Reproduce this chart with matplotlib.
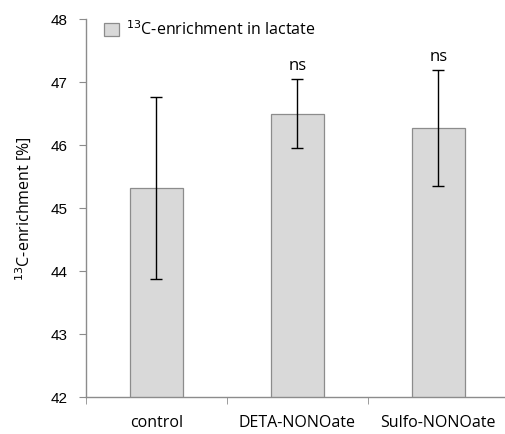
import matplotlib
matplotlib.use("Agg")
import matplotlib.pyplot as plt
import matplotlib.patches as mpatches
import numpy as np

categories = ["control", "DETA-NONOate", "Sulfo-NONOate"]
enrichment = [45.32, 46.50, 46.27]
errors = [1.45, 0.55, 0.92]
annotations = ["", "ns", "ns"]
yticks = [42, 43, 44, 45, 46, 47, 48]

plt.rcParams["font.family"] = ["Open Sans", "DejaVu Sans"]

fig = plt.figure(figsize=(5.05, 4.34), dpi=100)
ax = fig.add_axes([0.170, 0.085, 0.8376, 0.871])

x = np.arange(len(categories))
ax.bar(x, enrichment, width=0.38, bottom=0, color="#d9d9d9",
       edgecolor="#8c8c8c", linewidth=0.9, zorder=2)
ax.errorbar(x, enrichment, yerr=errors, fmt="none", ecolor="black",
            elinewidth=1.0, capsize=4, capthick=1.0, zorder=3)
for xi, val, err, txt in zip(x, enrichment, errors, annotations):
    if txt:
        ax.text(xi, val + err + 0.08, txt, ha="center", va="bottom", fontsize=12)

ax.set_xlim(-0.5, 2.5)
ax.set_ylim(42, 48)
ax.set_yticks(yticks)
ax.set_yticklabels([str(t) for t in yticks], family="Liberation Sans", fontsize=11)
ax.set_xticks(x)
ax.set_xticklabels(categories, fontsize=11.5)
ax.tick_params(axis="x", which="major", length=0, pad=13)
ax.set_xticks(np.arange(-0.5, 2.6, 1.0), minor=True)
ax.tick_params(axis="x", which="minor", length=5, color="#8c8c8c", direction="out")
ax.tick_params(axis="y", length=5, color="#8c8c8c", direction="out", pad=8)

for side in ["top", "right"]:
    ax.spines[side].set_visible(False)
for side in ["left", "bottom"]:
    ax.spines[side].set_color("#8c8c8c")
    ax.spines[side].set_linewidth(1.0)

ax.set_ylabel("$^{13}$C-enrichment [%]", fontsize=11.5, labelpad=12)

handle = mpatches.Patch(facecolor="#d9d9d9", edgecolor="#8c8c8c", linewidth=0.9)
ax.legend([handle], ["$^{13}$C-enrichment in lactate"], loc="upper left",
          bbox_to_anchor=(0.01, 1.035), frameon=False, fontsize=11.5,
          handlelength=0.9, handleheight=0.9, handletextpad=0.45)

fig.savefig("out.png", dpi=100)
